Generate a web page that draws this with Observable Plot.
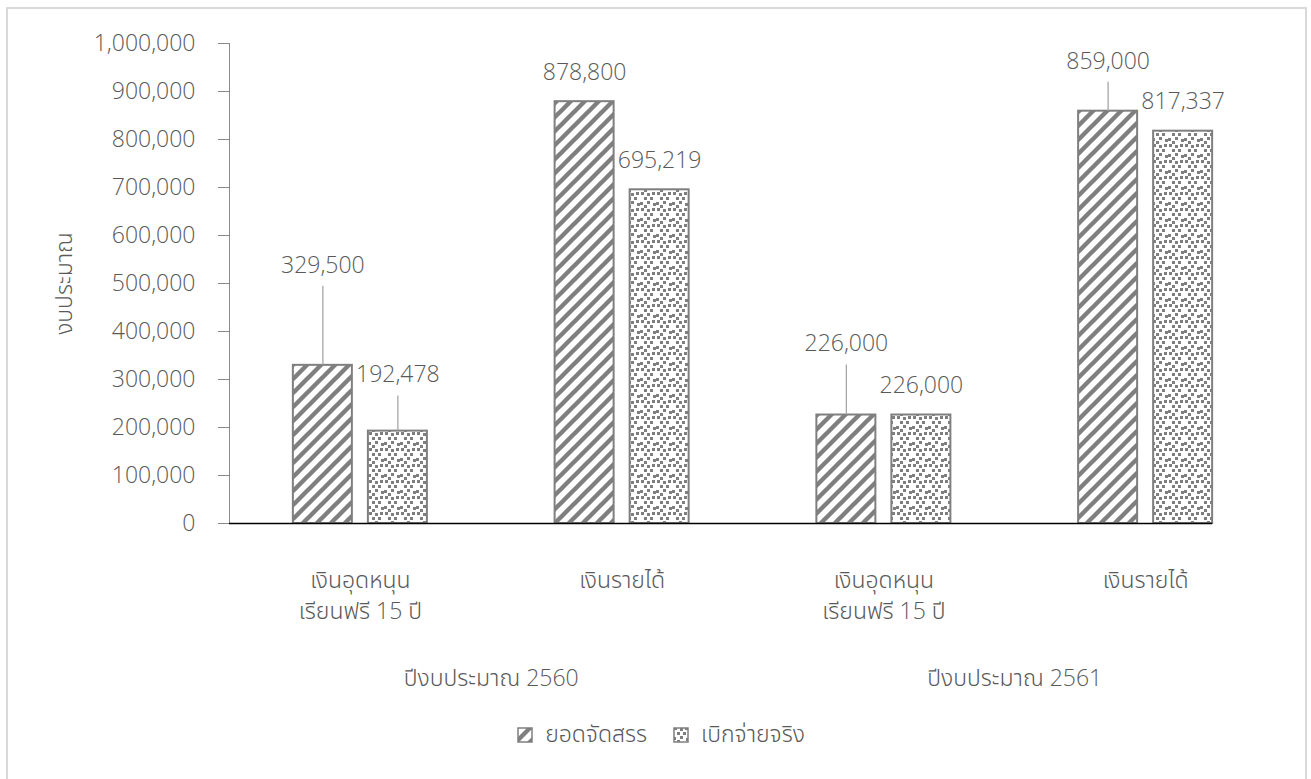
<!DOCTYPE html>
<html>
<head>
<meta charset="utf-8">
<script src="https://cdn.jsdelivr.net/npm/d3@7"></script>
<script src="https://cdn.jsdelivr.net/npm/@observablehq/plot@0.6"></script>
<style>
  html, body { margin: 0; padding: 0; background: #fff; }
  body { width: 1311px; height: 779px; overflow: hidden; position: relative;
         font-family: "Open Sans", "Noto Sans", "Noto Sans Thai", Tahoma, sans-serif; font-weight: 300; color: #595959; }
  #border { position: absolute; left: 6px; top: 7px; width: 1301px; height: 800px;
            border: 2px solid #d9d9d9; box-sizing: border-box; }
  #chart { position: absolute; left: 0; top: 0; }
  #legend { position: absolute; top: 717px; left: 0; width: 1322px; display: flex; justify-content: center;
            align-items: center; font-size: 23px; color: #595959; }
  #legend .item { display: flex; align-items: center; margin: 0 13px; }
  #legend svg { margin-right: 12px; }
</style>
</head>
<body>
<div id="border"></div>
<div id="chart"></div>
<div id="legend"></div>
<script>
// ---- data ----
const categories = ["เงินอุดหนุน\nเรียนฟรี 15 ปี", "เงินรายได้", "เงินอุดหนุน\nเรียนฟรี 15 ปี", "เงินรายได้"];
const groups = ["ปีงบประมาณ 2560", "ปีงบประมาณ 2561"];
const groupOf = [0, 0, 1, 1];
const seriesNames = ["ยอดจัดสรร", "เบิกจ่ายจริง"];
const allocated = [329500, 878800, 226000, 859000];
const disbursed = [192478, 695219, 226000, 817337];
const yTicks = [0, 100000, 200000, 300000, 400000, 500000, 600000, 700000, 800000, 900000, 1000000];
const yLabel = "งบประมาณ";
// label lift above bar top (px), per category, per series
const labelLift = [[100, 56], [29, 29], [71, 29], [50, 30]];

// ---- layout constants ----
const OFF = 0.1433, HALF = 0.1127;
const FONT = `"Open Sans", "Noto Sans", "Noto Sans Thai", Tahoma, sans-serif`;
const GRAY = "#7f7f7f";
const fmt = d3.format(",");

const rows = [];
categories.forEach((c, i) => [allocated, disbursed].forEach((arr, s) =>
  rows.push({ci: i, s, series: seriesNames[s], value: arr[i], lift: labelLift[i][s]})));
const cx = d => d.ci + (d.s ? OFF : -OFF);

const catRows = categories.map((c, i) => ({c, i}));
const groupRows = groups.map((g, gi) => {
  const idx = groupOf.map((v, i) => v === gi ? i : null).filter(v => v !== null);
  return {g, x: d3.mean(idx)};
});

const plot = Plot.plot({
  width: 1311, height: 700,
  marginTop: 43, marginBottom: 177, marginLeft: 229, marginRight: 35,
  style: {fontFamily: FONT, fontSize: "23px", fontWeight: 300, color: "#595959", background: "transparent", overflow: "visible"},
  x: {type: "linear", domain: [-0.5, categories.length - 0.5], axis: null},
  y: {domain: [0, 1000000], axis: null},
  marks: [
    Plot.axisY({ticks: yTicks, tickFormat: fmt, tickSize: 11, tickPadding: 23, stroke: "#898989",
                label: yLabel, labelAnchor: "center", labelArrow: "none", labelOffset: 174}),
    Plot.frame({anchor: "left", stroke: "#898989"}),
    Plot.rectY(rows.filter(d => d.s === 0), {x1: d => cx(d) - HALF, x2: d => cx(d) + HALF, y: "value",
               fill: "url(#hatchP)", stroke: GRAY, strokeWidth: 2}),
    Plot.rectY(rows.filter(d => d.s === 1), {x1: d => cx(d) - HALF, x2: d => cx(d) + HALF, y: "value",
               fill: "url(#dotsP)", stroke: GRAY, strokeWidth: 2}),
    Plot.ruleY([0], {x1: -0.5, x2: (categories.length - 1) + OFF + HALF, stroke: "#000", strokeWidth: 1.5}),
    ...rows.filter(d => d.lift > 40).map(d =>
      Plot.ruleX([d], {x: cx, y1: "value", y2: "value", insetTop: -(d.lift - 21), stroke: "#a6a6a6", strokeWidth: 1.3})),
    ...rows.map(d => Plot.text([d], {x: cx, y: "value", text: r => fmt(r.value), dy: -d.lift, fill: "#595959"})),
    Plot.text(catRows, {x: "i", y: 0, text: "c", lineAnchor: "top", dy: 42, lineHeight: 1.35, fill: "#595959"}),
    Plot.text(groupRows, {x: "x", y: 0, text: "g", dy: 155, fill: "#595959"})
  ]
});

const defs = `
<pattern id="hatchP" patternUnits="userSpaceOnUse" width="14" height="14">
  <rect width="14" height="14" fill="#fff"/>
  <path d="M-3,3 l6,-6 M0,14 l14,-14 M11,17 l6,-6" stroke="${GRAY}" stroke-width="4.4"/>
</pattern>
<pattern id="dotsP" patternUnits="userSpaceOnUse" width="16" height="16">
  <rect width="16" height="16" fill="#fff"/>
  <g fill="${GRAY}">
    <rect x="1" y="0" width="3" height="3"/><rect x="7" y="1" width="3" height="3"/>
    <rect x="12" y="0" width="3" height="3"/><rect x="4" y="5" width="3" height="3"/>
    <rect x="10" y="5" width="3" height="3"/><rect x="0" y="10" width="3" height="3"/>
    <rect x="7" y="9" width="3" height="3"/><rect x="13" y="11" width="3" height="3"/>
    <rect x="4" y="13" width="3" height="3"/>
  </g>
</pattern>`;
d3.select(plot).insert("defs", ":first-child").html(defs);
document.getElementById("chart").appendChild(plot);

// legend
const legend = d3.select("#legend");
seriesNames.forEach((name, s) => {
  const item = legend.append("div").attr("class", "item");
  const sw = item.append("svg").attr("width", 16).attr("height", 16);
  sw.append("rect").attr("x", 1).attr("y", 1).attr("width", 14).attr("height", 14)
    .attr("fill", s ? "url(#dotsP)" : "url(#hatchP)").attr("stroke", GRAY).attr("stroke-width", 1.5);
  item.append("span").text(name);
});
</script>
</body>
</html>
